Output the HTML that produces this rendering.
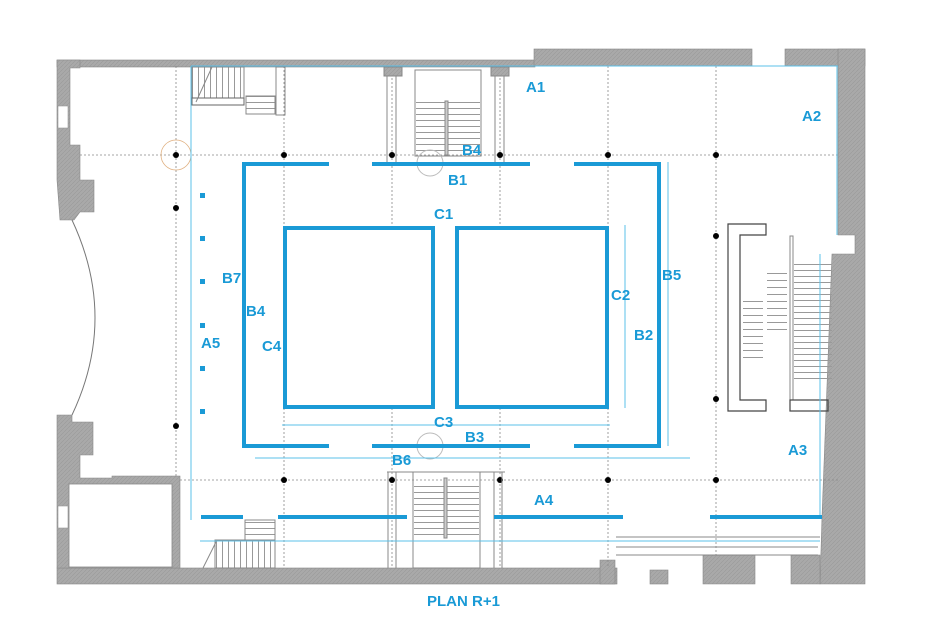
<!DOCTYPE html>
<html><head><meta charset="utf-8"><style>
html,body{margin:0;padding:0;background:#fff;}
svg{display:block;}
text{font-family:"Liberation Sans",sans-serif;font-weight:bold;fill:#1a9ad6;}
</style></head><body>
<svg width="931" height="621" viewBox="0 0 931 621" xmlns="http://www.w3.org/2000/svg">
<defs>
<pattern id="hatch" width="4" height="4" patternUnits="userSpaceOnUse"><rect width="4" height="4" fill="#a9a9a9"/><path d="M0 4L4 0" stroke="#999" stroke-width="0.6"/></pattern>
<pattern id="tr" width="10" height="6" patternUnits="userSpaceOnUse"><line x1="0" y1="0.5" x2="10" y2="0.5" stroke="#999" stroke-width="1"/></pattern>
<pattern id="tr7" width="10" height="7" patternUnits="userSpaceOnUse"><line x1="0" y1="0.5" x2="10" y2="0.5" stroke="#999" stroke-width="1"/></pattern>
<pattern id="tv" width="6" height="10" patternUnits="userSpaceOnUse"><line x1="0.5" y1="0" x2="0.5" y2="10" stroke="#999" stroke-width="1"/></pattern>
</defs>
<g fill="url(#hatch)" stroke="#888" stroke-width="0.6">
<rect x="57" y="60" width="478" height="7"/>
<rect x="534" y="49" width="218" height="17"/>
<rect x="785" y="49" width="80" height="17"/>
<polygon points="838,49 865,49 865,584 850,584 820,584 822,517 832,254 855,254 855,235 838,235"/>
<rect x="57" y="568" width="560" height="16"/>
<polygon points="600,560 615,560 615,584 600,584"/>
<rect x="650" y="570" width="18" height="14"/>
<polygon points="703,555 755,555 755,584 703,584"/>
<polygon points="791,555 820,555 820,584 791,584"/>
<polygon points="57,60 80,60 80,68 70,68 70,105 70,130 70,145 80,145 80,145 80,180 94,180 94,212 80,212 74,220 60,220 57,180"/>
<polygon points="57,415 72,415 72,422 93,422 93,455 80,455 80,478 112,478 112,476 180,476 180,568 57,568"/>
</g>
<rect x="69" y="484" width="103" height="83" fill="#fff" stroke="#888" stroke-width="0.8"/>
<rect x="58" y="106" width="10" height="22" fill="#fff" stroke="#999" stroke-width="0.6"/>
<rect x="58" y="506" width="10" height="22" fill="#fff" stroke="#999" stroke-width="0.6"/>
<path d="M72 220 Q118 318 72 415" fill="none" stroke="#777" stroke-width="1"/>
<g stroke="#888" stroke-width="0.8" stroke-dasharray="2,2" fill="none">
<line x1="80" y1="155" x2="838" y2="155"/>
<line x1="180" y1="480" x2="840" y2="480"/>
<line x1="176" y1="66" x2="176" y2="476"/>
<line x1="284" y1="66" x2="284" y2="227"/>
<line x1="284" y1="408" x2="284" y2="568"/>
<line x1="392" y1="66" x2="392" y2="227"/>
<line x1="392" y1="408" x2="392" y2="568"/>
<line x1="500" y1="66" x2="500" y2="227"/>
<line x1="500" y1="408" x2="500" y2="568"/>
<line x1="608" y1="66" x2="608" y2="227"/>
<line x1="608" y1="408" x2="608" y2="568"/>
<line x1="716" y1="66" x2="716" y2="555"/>
</g>
<circle cx="176" cy="155" r="15" fill="none" stroke="#e0b080" stroke-width="0.8"/>
<g fill="#000">
<circle cx="176" cy="155" r="3"/><circle cx="284" cy="155" r="3"/><circle cx="392" cy="155" r="3"/><circle cx="500" cy="155" r="3"/><circle cx="608" cy="155" r="3"/><circle cx="716" cy="155" r="3"/>
<circle cx="176" cy="208" r="3"/><circle cx="716" cy="236" r="3"/><circle cx="716" cy="399" r="3"/><circle cx="176" cy="426" r="3"/>
<circle cx="284" cy="480" r="3"/><circle cx="392" cy="480" r="3"/><circle cx="500" cy="480" r="3"/><circle cx="608" cy="480" r="3"/><circle cx="716" cy="480" r="3"/>
</g>
<g stroke="#888" stroke-width="1" fill="none">
<rect x="192" y="67" width="52" height="31" fill="url(#tv)"/>
<rect x="192" y="98" width="52" height="7" stroke="#666"/>
<line x1="212" y1="67" x2="196" y2="102"/>
<rect x="246" y="96" width="29" height="18" fill="url(#tr)"/>
<rect x="276" y="67" width="9" height="48"/>
<rect x="384" y="67" width="18" height="9" fill="url(#hatch)"/>
<rect x="491" y="67" width="18" height="9" fill="url(#hatch)"/>
<line x1="387" y1="76" x2="387" y2="163"/><line x1="396" y1="76" x2="396" y2="163"/>
<line x1="495" y1="76" x2="495" y2="163"/><line x1="504" y1="76" x2="504" y2="163"/>
<rect x="415" y="70" width="66" height="86"/>
<rect x="416" y="101" width="64" height="54" fill="url(#tr)" stroke="none"/>
<rect x="445" y="101" width="3" height="54" fill="#ccc"/>
<circle cx="430" cy="163" r="13" stroke="#bbb"/>
<line x1="387" y1="472" x2="505" y2="472"/>
<line x1="388" y1="472" x2="388" y2="568"/><line x1="396" y1="472" x2="396" y2="568"/>
<line x1="494" y1="472" x2="494" y2="568"/><line x1="502" y1="472" x2="502" y2="568"/>
<rect x="413" y="472" width="67" height="96"/>
<rect x="414" y="483" width="65" height="55" fill="url(#tr)" stroke="none"/>
<rect x="444" y="478" width="3" height="60" fill="#ccc"/>
<circle cx="430" cy="446" r="13" stroke="#bbb"/>
<rect x="245" y="520" width="30" height="20" fill="url(#tr)"/>
<rect x="215" y="540" width="60" height="28" fill="url(#tv)"/>
<line x1="217" y1="540" x2="203" y2="568"/>
<path d="M728 224 H766 V235 H740 V400 H766 V411 H728 Z" stroke="#444" stroke-width="1.2"/>
<rect x="790" y="236" width="3" height="164"/>
<rect x="794" y="262" width="38" height="122" fill="url(#tr)" stroke="none"/>
<rect x="790" y="400" width="38" height="11" stroke="#444" stroke-width="1.2"/>
<rect x="767" y="272" width="20" height="60" fill="url(#tr7)" stroke="none"/>
<rect x="743" y="299" width="20" height="60" fill="url(#tr7)" stroke="none"/>
<line x1="616" y1="537" x2="820" y2="537"/>
<line x1="616" y1="547" x2="818" y2="547"/>
<line x1="616" y1="555" x2="818" y2="555"/>
</g>
<g stroke="#5bc0e8" stroke-width="1" fill="none">
<line x1="191" y1="66" x2="838" y2="66"/>
<line x1="191" y1="66" x2="191" y2="520"/>
<line x1="837" y1="66" x2="837" y2="235"/>
<line x1="820" y1="254" x2="820" y2="517"/>
<line x1="282" y1="425" x2="610" y2="425"/>
<line x1="255" y1="458" x2="690" y2="458"/>
<line x1="200" y1="541" x2="820" y2="541"/>
<line x1="625" y1="225" x2="625" y2="408"/>
<line x1="668" y1="162" x2="668" y2="446"/>
</g>
<g stroke="#1a9ad6" stroke-width="4" fill="none">
<path d="M329 164 H244 V446 H329"/>
<path d="M574 164 H659 V446 H574"/>
<line x1="372" y1="164" x2="530" y2="164"/>
<line x1="372" y1="446" x2="530" y2="446"/>
<rect x="285" y="228" width="148" height="179"/>
<rect x="457" y="228" width="150" height="179"/>
<line x1="201" y1="517" x2="243" y2="517"/>
<line x1="278" y1="517" x2="407" y2="517"/>
<line x1="494" y1="517" x2="623" y2="517"/>
<line x1="710" y1="517" x2="822" y2="517"/>
</g>
<g fill="#1a9ad6">
<rect x="200" y="193" width="5" height="5"/><rect x="200" y="236" width="5" height="5"/><rect x="200" y="279" width="5" height="5"/><rect x="200" y="323" width="5" height="5"/><rect x="200" y="366" width="5" height="5"/><rect x="200" y="409" width="5" height="5"/>
</g>
<g font-size="15">
<text x="526" y="92">A1</text>
<text x="802" y="121">A2</text>
<text x="462" y="155">B4</text>
<text x="448" y="185">B1</text>
<text x="434" y="219">C1</text>
<text x="222" y="283">B7</text>
<text x="246" y="316">B4</text>
<text x="201" y="348">A5</text>
<text x="262" y="351">C4</text>
<text x="611" y="300">C2</text>
<text x="662" y="280">B5</text>
<text x="634" y="340">B2</text>
<text x="434" y="427">C3</text>
<text x="465" y="442">B3</text>
<text x="392" y="465">B6</text>
<text x="534" y="505">A4</text>
<text x="788" y="455">A3</text>
<text x="427" y="606">PLAN R+1</text>
</g>
</svg>
</body></html>
